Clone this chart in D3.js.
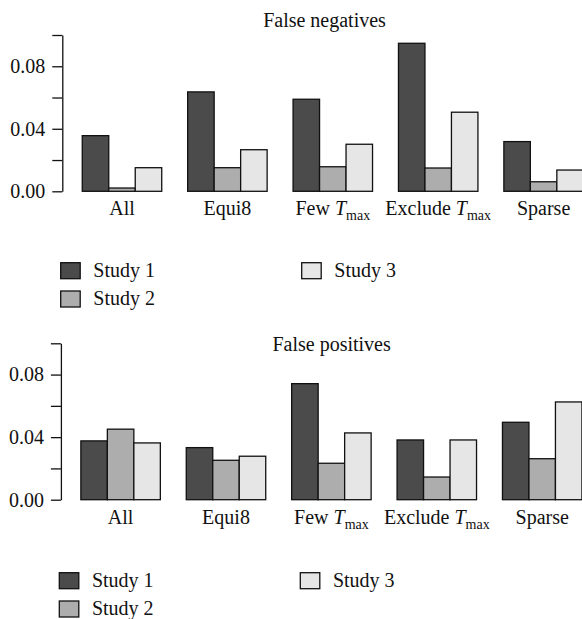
<!DOCTYPE html>
<html>
<head>
<meta charset="utf-8">
<script src="https://cdn.jsdelivr.net/npm/d3@7"></script>
<style>
  html, body { margin: 0; padding: 0; background: #fff; }
  svg { display: block; }
</style>
</head>
<body>
<svg id="chart" width="582" height="619"></svg>
<script>
// Scenario categories along the x axis ("T_max" is drawn as italic T with subscript "max")
const categories = ["All", "Equi8", "Few T_max", "Exclude T_max", "Sparse"];
const studies = ["Study 1", "Study 2", "Study 3"];
const studyColors = ["#4b4b4b", "#adadad", "#e6e6e6"];

// Error rates per scenario, one array per study
const fnStudy1 = [0.0356, 0.0636, 0.0589, 0.0947, 0.0318];
const fnStudy2 = [0.0021, 0.0151, 0.0157, 0.0149, 0.0061];
const fnStudy3 = [0.0151, 0.0266, 0.0301, 0.0506, 0.0136];

const fpStudy1 = [0.0376, 0.0333, 0.0742, 0.0382, 0.0495];
const fpStudy2 = [0.0451, 0.0252, 0.0233, 0.0145, 0.0262];
const fpStudy3 = [0.0363, 0.0278, 0.0427, 0.0382, 0.0625];

const yTicks = [0, 0.02, 0.04, 0.06, 0.08, 0.10];
const yTickLabels = ["0.00", "", "0.04", "", "0.08", ""];

const FONT = "'Liberation Serif', 'Tinos', 'Times New Roman', serif";
const INK = "#111";

const svg = d3.select("#chart");

const panels = [
  { title: "False negatives", series: [fnStudy1, fnStudy2, fnStudy3],
    dx: 0, top: 35, bottom: 191.3, titleX: 324.5, titleY: 26.5, legendY: 262.7 },
  { title: "False positives", series: [fpStudy1, fpStudy2, fpStudy3],
    dx: -1.4, top: 343.3, bottom: 499.7, titleX: 333, titleY: 351, legendY: 572.7 }
];

function styleText(sel) {
  return sel.style("font-family", FONT).style("font-size", "20px").style("fill", INK);
}

function drawCategoryLabel(textSel, name) {
  textSel.text(null);
  const parts = name.split(" T_");
  if (parts.length === 1) {
    textSel.append("tspan").text(name);
  } else {
    textSel.append("tspan").text(parts[0] + " ");
    textSel.append("tspan").style("font-style", "italic").text("T");
    textSel.append("tspan").style("font-size", "14px").attr("dy", "5").text(parts[1]);
  }
}

panels.forEach(p => {
  const g = svg.append("g").attr("transform", `translate(${p.dx},0)`);

  const x = d3.scaleBand()
    .domain(categories)
    .range([69.3, 596.3])
    .paddingInner(0.246)
    .paddingOuter(0.123);

  const xs = d3.scaleBand()
    .domain(studies)
    .range([0, x.bandwidth()]);

  const y = d3.scaleLinear().domain([0, 0.1]).range([p.bottom, p.top]);

  // Bars
  const groups = g.selectAll("g.cat")
    .data(categories)
    .join("g")
    .attr("class", "cat")
    .attr("transform", d => `translate(${x(d)},0)`);

  groups.selectAll("rect")
    .data((d, i) => studies.map((s, j) => ({ s, j, v: p.series[j][i] })))
    .join("rect")
    .attr("x", d => xs(d.s))
    .attr("width", xs.bandwidth())
    .attr("y", d => y(d.v))
    .attr("height", d => y(0) - y(d.v))
    .attr("fill", d => studyColors[d.j])
    .attr("stroke", INK)
    .attr("stroke-width", 1.3);

  // Y axis
  const yAxis = g.append("g")
    .attr("transform", "translate(62.3,0)")
    .call(d3.axisLeft(y)
      .tickValues(yTicks)
      .tickFormat((d, i) => yTickLabels[i])
      .tickSize(10)
      .tickSizeOuter(0)
      .tickPadding(7));
  yAxis.select(".domain").attr("stroke", INK).attr("stroke-width", 1.3);
  yAxis.selectAll(".tick line").attr("stroke", INK).attr("stroke-width", 1.3);
  styleText(yAxis.selectAll(".tick text"));

  // X axis labels (no axis line)
  const xAxis = g.append("g")
    .attr("transform", `translate(0,${p.bottom})`)
    .call(d3.axisBottom(x).tickSize(0).tickPadding(0));
  xAxis.select(".domain").remove();
  styleText(xAxis.selectAll(".tick text"))
    .attr("dy", null)
    .attr("y", 24)
    .each(function(d) { drawCategoryLabel(d3.select(this), d); });

  // Title
  styleText(g.append("text"))
    .attr("x", p.titleX)
    .attr("y", p.titleY)
    .attr("text-anchor", "middle")
    .text(p.title);

  // Legend
  const legendPos = [
    { x: 60.7, y: p.legendY },
    { x: 60.7, y: p.legendY + 28.3 },
    { x: 301.7, y: p.legendY }
  ];
  const legend = g.append("g");
  studies.forEach((s, j) => {
    const lp = legendPos[j];
    legend.append("rect")
      .attr("x", lp.x).attr("y", lp.y)
      .attr("width", 19.5).attr("height", 16)
      .attr("fill", studyColors[j])
      .attr("stroke", INK)
      .attr("stroke-width", 1.3);
    styleText(legend.append("text"))
      .attr("x", lp.x + 32.6)
      .attr("y", lp.y + 14)
      .text(s);
  });
});
</script>
</body>
</html>
